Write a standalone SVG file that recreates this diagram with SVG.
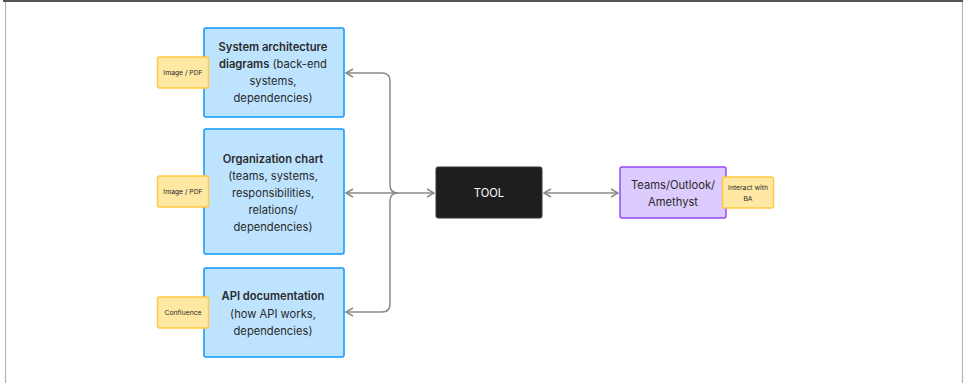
<svg xmlns="http://www.w3.org/2000/svg" width="965" height="383" viewBox="0 0 965 383">
  <style>
    .src { fill: #bde3ff; stroke: #0d99ff; stroke-width: 1.5; }
    .tag { fill: #ffe8a3; stroke: #ffc943; stroke-width: 1.5; }
    .tool { fill: #1e1e1e; stroke: #383838; stroke-width: 1; }
    .chan { fill: #dccbfd; stroke: #9747ff; stroke-width: 1.5; }
    text { font-family: Inter, "Noto Sans", "Liberation Sans", sans-serif; fill: #2a2a2a; text-anchor: middle; }
    .body { font-size: 11.2px; }
    .b { font-weight: 600; }
    .small { font-size: 6.8px; }
    .wire { fill: none; stroke: #8a8a8a; stroke-width: 1.5; }
  </style>
  <defs>
    <marker id="chev" viewBox="0 0 10 10" refX="9" refY="5" markerWidth="10" markerHeight="10" markerUnits="userSpaceOnUse" orient="auto-start-reverse">
      <path d="M2 1 L9 5 L2 9" fill="none" stroke="#8a8a8a" stroke-width="1.5"/>
    </marker>
  </defs>

  <!-- frame -->
  <rect x="5.5" y="0" width="957" height="400" fill="none" stroke="#b5b5b5" stroke-width="1.2"/>
  <rect x="3" y="0" width="960" height="2" fill="#555555"/>

  <g id="connectors">
    <path class="wire" d="M346 73 L382 73 Q390 73 390 81 L390 185 Q390 193 398 193" marker-start="url(#chev)"/>
    <path class="wire" d="M346 312 L382 312 Q390 312 390 304 L390 201 Q390 193 398 193" marker-start="url(#chev)"/>
    <path class="wire" d="M346 193 L434 193" marker-start="url(#chev)" marker-end="url(#chev)"/>
    <path class="wire" d="M544 193 L618 193" marker-start="url(#chev)" marker-end="url(#chev)"/>
  </g>

  <g id="sysarch">
    <rect class="src" x="204" y="28" width="140" height="89" rx="2"/>
    <text class="body" x="273" y="50.5"><tspan class="b">System architecture</tspan></text>
    <text class="body" x="273" y="68"><tspan class="b">diagrams</tspan> (back-end</text>
    <text class="body" x="273" y="85">systems,</text>
    <text class="body" x="273" y="102">dependencies)</text>
  </g>
  <g id="tag-sysarch">
    <rect class="tag" x="157.5" y="57" width="51" height="31" rx="2"/>
    <text class="small" x="183" y="74.5">Image / PDF</text>
  </g>

  <g id="orgchart">
    <rect class="src" x="204" y="129" width="140" height="125" rx="2"/>
    <text class="body b" x="273" y="162.5">Organization chart</text>
    <text class="body" x="273" y="180">(teams, systems,</text>
    <text class="body" x="273" y="197">responsibilities,</text>
    <text class="body" x="273" y="214">relations/</text>
    <text class="body" x="273" y="231">dependencies)</text>
  </g>
  <g id="tag-orgchart">
    <rect class="tag" x="157.5" y="176" width="51" height="31" rx="2"/>
    <text class="small" x="183" y="193.5">Image / PDF</text>
  </g>

  <g id="apidoc">
    <rect class="src" x="204" y="268" width="140" height="89" rx="2"/>
    <text class="body b" x="273" y="300">API documentation</text>
    <text class="body" x="273" y="317.5">(how API works,</text>
    <text class="body" x="273" y="334.5">dependencies)</text>
  </g>
  <g id="tag-apidoc">
    <rect class="tag" x="157.5" y="297" width="51" height="31" rx="2"/>
    <text class="small" x="183" y="315">Confluence</text>
  </g>

  <g id="tool">
    <rect class="tool" x="436" y="167" width="106" height="51" rx="2"/>
    <text class="body" x="489" y="197" style="fill:#ffffff">TOOL</text>
  </g>

  <g id="channels">
    <rect class="chan" x="620" y="167" width="106" height="51" rx="2"/>
    <text class="body" x="673" y="188.5">Teams/Outlook/</text>
    <text class="body" x="673" y="206">Amethyst</text>
  </g>
  <g id="tag-channels">
    <rect class="tag" x="722.5" y="177" width="51" height="31" rx="2"/>
    <text class="small" x="748" y="190">Interact with</text>
    <text class="small" x="748" y="200.5">BA</text>
  </g>
</svg>
